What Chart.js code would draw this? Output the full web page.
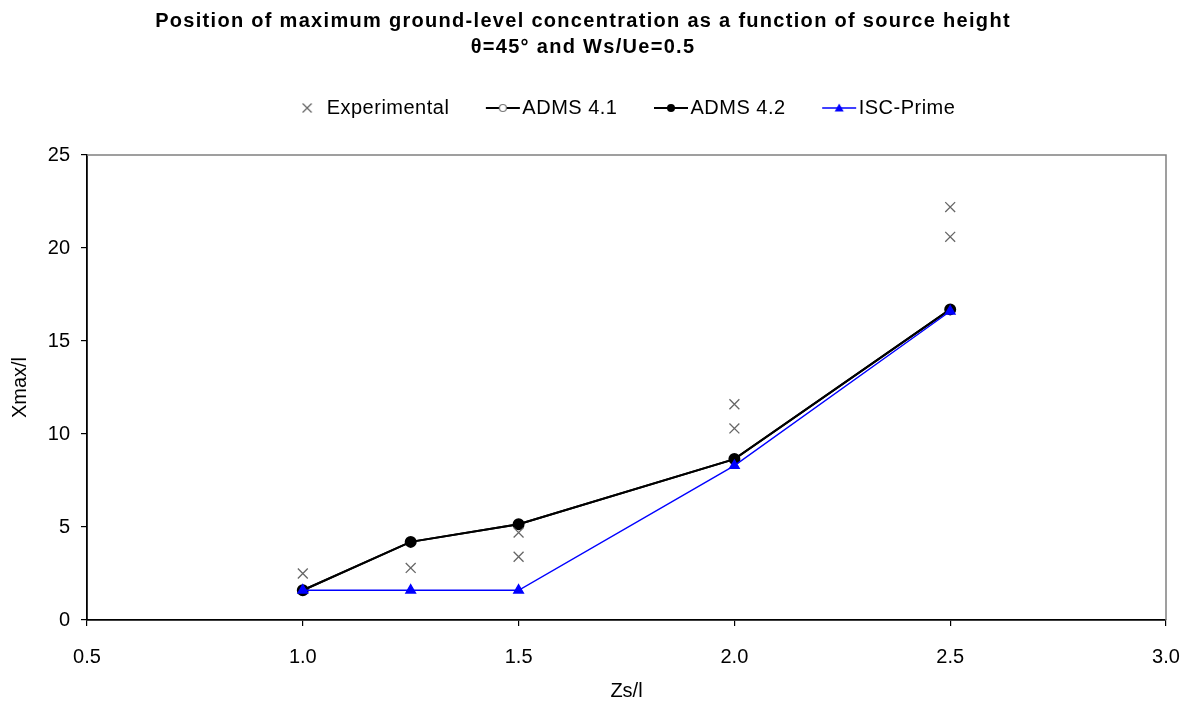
<!DOCTYPE html>
<html>
<head>
<meta charset="utf-8">
<script src="https://cdn.jsdelivr.net/npm/chart.js@4/dist/chart.umd.min.js"></script>
<style>
  html, body { margin: 0; padding: 0; background: #fff; }
  #wrap { width: 1193px; height: 704px; }
</style>
</head>
<body>
<div id="wrap"><canvas id="myChart" width="1193" height="704"></canvas></div>
<script>
// source heights (Zs/l)
var zs = [1.0, 1.25, 1.5, 2.0, 2.5];
// experimental points, two runs at some heights
var expX = [1.0, 1.25, 1.5, 1.5, 2.0, 2.0, 2.5, 2.5];
var expY = [2.5, 2.8, 4.7, 3.4, 11.6, 10.3, 22.2, 20.6];
var adms41 = [1.6, 4.2, 5.15, 8.65, 16.7];
var adms42 = [1.6, 4.2, 5.15, 8.65, 16.7];
var iscPrime = [1.6, 1.6, 1.6, 8.3, 16.6];
var xTicks = [0.5, 1.0, 1.5, 2.0, 2.5, 3.0];
var yTicks = [0, 5, 10, 15, 20, 25];

Chart.defaults.font.family = "'Liberation Sans', Arial, sans-serif";
Chart.defaults.color = '#000';

function pairs(xs, ys) {
    var out = [];
    for (let i = 0; i < xs.length; i++) out.push({x: xs[i], y: ys[i]});
    return out;
}

// little legend pictures, excel style: line with marker in the middle
function legendIcon(kind) {
    var c = document.createElement('canvas');
    c.width = 36; c.height = 14;
    var g = c.getContext('2d');
    var cx = 18, cy = 7;
    if (kind == 'cross') {
        g.strokeStyle = '#666'; g.lineWidth = 1.3;
        g.beginPath();
        g.moveTo(cx - 4.5, cy - 4.5); g.lineTo(cx + 4.5, cy + 4.5);
        g.moveTo(cx + 4.5, cy - 4.5); g.lineTo(cx - 4.5, cy + 4.5);
        g.stroke();
        return c;
    }
    var col = kind == 'tri' ? '#0000ff' : '#000';
    g.strokeStyle = col; g.lineWidth = kind == 'tri' ? 1.4 : 1.8;
    g.beginPath(); g.moveTo(1, cy); g.lineTo(35, cy); g.stroke();
    if (kind == 'open') {
        g.fillStyle = '#fff'; g.strokeStyle = '#777'; g.lineWidth = 1.2;
        g.beginPath(); g.arc(cx, cy, 3.5, 0, Math.PI * 2); g.fill(); g.stroke();
    } else if (kind == 'dot') {
        g.fillStyle = '#000';
        g.beginPath(); g.arc(cx, cy, 4, 0, Math.PI * 2); g.fill();
    } else {
        g.fillStyle = col;
        g.beginPath(); g.moveTo(cx, cy - 4.5); g.lineTo(cx + 4.5, cy + 3.5); g.lineTo(cx - 4.5, cy + 3.5); g.closePath(); g.fill();
    }
    return c;
}
var icons = [legendIcon('cross'), legendIcon('open'), legendIcon('dot'), legendIcon('tri')];

// gray frame on top and right of the plot area
const frame = {
    id: 'frame',
    beforeDatasetsDraw(chart) {
        const a = chart.chartArea, ctx = chart.ctx;
        ctx.save();
        ctx.strokeStyle = '#808080';
        ctx.lineWidth = 1.5;
        ctx.beginPath();
        ctx.moveTo(a.left, a.top);
        ctx.lineTo(a.right, a.top);
        ctx.lineTo(a.right, a.bottom);
        ctx.stroke();
        ctx.restore();
    }
};

function spaced(fn, sp) {
    return function () {
        var c = this.ctx;
        c.save();
        c.letterSpacing = sp;
        var r = fn.apply(this, arguments);
        c.restore();
        return r;
    };
}

// legend needs more room below it than chart.js gives, text is spaced wider
const tweaks = {
    id: 'tweaks',
    afterInit(chart) {
        var lg = chart.legend;
        if (lg) {
            var fit = spaced(lg.fit, '0.5px');
            lg.fit = function () { fit.call(this); this.height = 101; };
            lg.draw = spaced(lg.draw, '0.5px');
        }
        var tb = chart.titleBlock;
        if (tb) tb.draw = spaced(tb.draw, '1.3px');
    }
};

const data = {
    datasets: [{
        label: 'Experimental',
        data: pairs(expX, expY),
        showLine: false,
        pointStyle: 'crossRot',
        pointRadius: 7,
        borderColor: '#666',
        backgroundColor: '#666',
        pointBorderWidth: 1.3,
        order: 0
    }, {
        label: 'ADMS 4.1',
        data: pairs(zs, adms41),
        borderColor: '#000',
        borderWidth: 2,
        pointStyle: 'circle',
        pointRadius: 4,
        pointBackgroundColor: '#fff',
        pointBorderColor: '#777',
        pointBorderWidth: 1.2,
        order: 3
    }, {
        label: 'ADMS 4.2',
        data: pairs(zs, adms42),
        borderColor: '#000',
        backgroundColor: '#000',
        borderWidth: 2,
        pointStyle: 'circle',
        pointRadius: 5,
        order: 2
    }, {
        label: 'ISC-Prime',
        data: pairs(zs, iscPrime),
        borderColor: '#0000ff',
        backgroundColor: '#0000ff',
        borderWidth: 1.4,
        pointStyle: 'triangle',
        pointRadius: 5.5,
        order: 1
    }]
};

const config = {
    type: 'line',
    data: data,
    plugins: [frame, tweaks],
    options: {
        responsive: false,
        animation: false,
        devicePixelRatio: 1,
        layout: { padding: { left: 0, right: 27, top: 0, bottom: 0 } },
        plugins: {
            title: {
                display: true,
                text: ['Position of maximum ground-level concentration as a function of source height', '\u03b8=45\u00b0 and Ws/Ue=0.5'],
                font: { size: 20, weight: 'bold', lineHeight: 1.3 },
                color: '#000',
                padding: { top: 8, bottom: -6 }
            },
            legend: {
                position: 'top',
                fullSize: false,
                labels: {
                    font: { size: 20 },
                    color: '#000',
                    padding: 44,
                    usePointStyle: true,
                    pointStyleWidth: 19,
                    generateLabels: function (chart) {
                        return chart.data.datasets.map(function (ds, i) {
                            return {
                                text: ds.label,
                                pointStyle: icons[i],
                                datasetIndex: i,
                                fontColor: '#000',
                                lineWidth: 0,
                                strokeStyle: 'transparent',
                                fillStyle: 'transparent'
                            };
                        });
                    }
                }
            },
            tooltip: { enabled: false }
        },
        scales: {
            x: {
                type: 'linear',
                min: 0.5,
                max: 3.0,
                afterBuildTicks: function (s) { s.ticks = xTicks.map(v => ({value: v})); },
                afterFit: function (s) { s.height = 84; s.paddingRight = 0; },
                ticks: {
                    font: { size: 20 },
                    color: '#000',
                    padding: 19,
                    callback: v => v.toFixed(1)
                },
                grid: { drawOnChartArea: false, color: '#000', tickLength: 6, lineWidth: 1.2 },
                border: { color: '#000', width: 1.8 },
                title: {
                    display: true,
                    text: 'Zs/l',
                    font: { size: 20 },
                    color: '#000',
                    padding: { top: 4, bottom: 1 }
                }
            },
            y: {
                min: 0,
                max: 25,
                afterBuildTicks: function (s) { s.ticks = yTicks.map(v => ({value: v})); },
                afterFit: function (s) { s.width = 87; },
                ticks: {
                    font: { size: 20 },
                    color: '#000',
                    padding: 11
                },
                grid: { drawOnChartArea: false, color: '#000', tickLength: 6, lineWidth: 1.2 },
                border: { color: '#000', width: 1.8 },
                title: {
                    display: true,
                    text: 'Xmax/l',
                    font: { size: 20 },
                    color: '#000',
                    padding: { top: 8, bottom: 0 }
                }
            }
        }
    }
};

const myChart = new Chart(document.getElementById('myChart').getContext('2d'), config);
</script>
</body>
</html>
